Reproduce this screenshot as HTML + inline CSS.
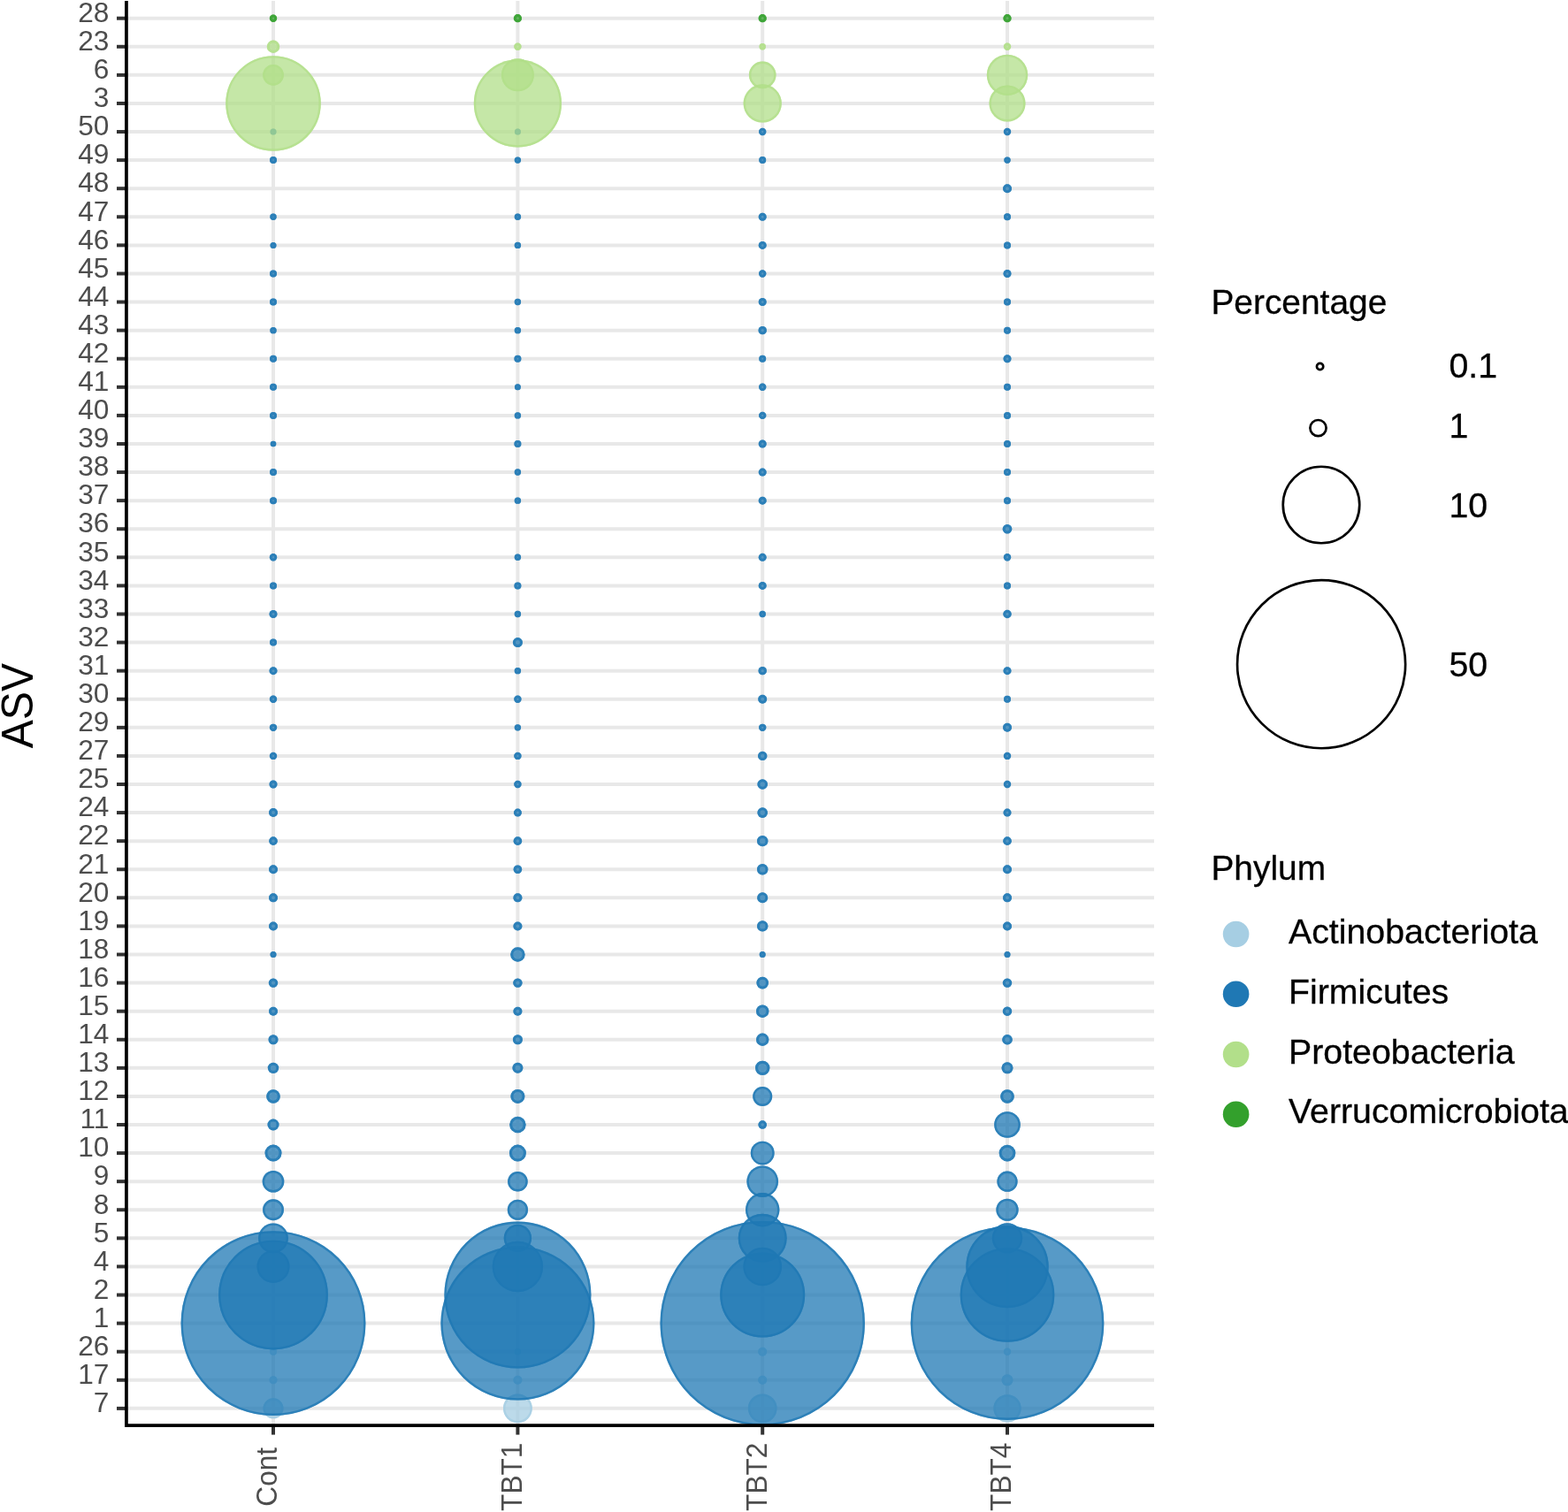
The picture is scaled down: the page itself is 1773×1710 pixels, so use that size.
<!DOCTYPE html>
<html lang="en">
<head>
<meta charset="utf-8">
<title>ASV bubble plot</title>
<style>
html,body{margin:0;padding:0;background:#fff;}
body{width:1773px;height:1710px;overflow:hidden;}
svg{display:block;}
text{font-family:"Liberation Sans",Arial,Helvetica,sans-serif;}
.ax{font-size:31.6px;fill:#4d4d4d;}
.lg{font-size:38.9px;fill:#000;stroke:#000;stroke-width:0.3px;}
.ll{font-size:39.3px;fill:#000;stroke:#000;stroke-width:0.3px;}
.tt{font-size:48.1px;fill:#000;}
</style>
</head>
<body>
<svg width="1773" height="1710" viewBox="0 0 1773 1710">
<rect width="1773" height="1710" fill="#ffffff"/>
<g stroke="#e8e8e8" stroke-width="4" fill="none">
<line x1="143.0" y1="20.70" x2="1305.0" y2="20.70"/>
<line x1="143.0" y1="52.78" x2="1305.0" y2="52.78"/>
<line x1="143.0" y1="84.87" x2="1305.0" y2="84.87"/>
<line x1="143.0" y1="116.95" x2="1305.0" y2="116.95"/>
<line x1="143.0" y1="149.04" x2="1305.0" y2="149.04"/>
<line x1="143.0" y1="181.12" x2="1305.0" y2="181.12"/>
<line x1="143.0" y1="213.21" x2="1305.0" y2="213.21"/>
<line x1="143.0" y1="245.29" x2="1305.0" y2="245.29"/>
<line x1="143.0" y1="277.38" x2="1305.0" y2="277.38"/>
<line x1="143.0" y1="309.46" x2="1305.0" y2="309.46"/>
<line x1="143.0" y1="341.55" x2="1305.0" y2="341.55"/>
<line x1="143.0" y1="373.63" x2="1305.0" y2="373.63"/>
<line x1="143.0" y1="405.72" x2="1305.0" y2="405.72"/>
<line x1="143.0" y1="437.81" x2="1305.0" y2="437.81"/>
<line x1="143.0" y1="469.89" x2="1305.0" y2="469.89"/>
<line x1="143.0" y1="501.98" x2="1305.0" y2="501.98"/>
<line x1="143.0" y1="534.06" x2="1305.0" y2="534.06"/>
<line x1="143.0" y1="566.15" x2="1305.0" y2="566.15"/>
<line x1="143.0" y1="598.23" x2="1305.0" y2="598.23"/>
<line x1="143.0" y1="630.32" x2="1305.0" y2="630.32"/>
<line x1="143.0" y1="662.40" x2="1305.0" y2="662.40"/>
<line x1="143.0" y1="694.49" x2="1305.0" y2="694.49"/>
<line x1="143.0" y1="726.57" x2="1305.0" y2="726.57"/>
<line x1="143.0" y1="758.66" x2="1305.0" y2="758.66"/>
<line x1="143.0" y1="790.74" x2="1305.0" y2="790.74"/>
<line x1="143.0" y1="822.83" x2="1305.0" y2="822.83"/>
<line x1="143.0" y1="854.91" x2="1305.0" y2="854.91"/>
<line x1="143.0" y1="887.00" x2="1305.0" y2="887.00"/>
<line x1="143.0" y1="919.08" x2="1305.0" y2="919.08"/>
<line x1="143.0" y1="951.17" x2="1305.0" y2="951.17"/>
<line x1="143.0" y1="983.25" x2="1305.0" y2="983.25"/>
<line x1="143.0" y1="1015.34" x2="1305.0" y2="1015.34"/>
<line x1="143.0" y1="1047.42" x2="1305.0" y2="1047.42"/>
<line x1="143.0" y1="1079.51" x2="1305.0" y2="1079.51"/>
<line x1="143.0" y1="1111.59" x2="1305.0" y2="1111.59"/>
<line x1="143.0" y1="1143.68" x2="1305.0" y2="1143.68"/>
<line x1="143.0" y1="1175.76" x2="1305.0" y2="1175.76"/>
<line x1="143.0" y1="1207.85" x2="1305.0" y2="1207.85"/>
<line x1="143.0" y1="1239.93" x2="1305.0" y2="1239.93"/>
<line x1="143.0" y1="1272.02" x2="1305.0" y2="1272.02"/>
<line x1="143.0" y1="1304.10" x2="1305.0" y2="1304.10"/>
<line x1="143.0" y1="1336.19" x2="1305.0" y2="1336.19"/>
<line x1="143.0" y1="1368.27" x2="1305.0" y2="1368.27"/>
<line x1="143.0" y1="1400.36" x2="1305.0" y2="1400.36"/>
<line x1="143.0" y1="1432.44" x2="1305.0" y2="1432.44"/>
<line x1="143.0" y1="1464.53" x2="1305.0" y2="1464.53"/>
<line x1="143.0" y1="1496.61" x2="1305.0" y2="1496.61"/>
<line x1="143.0" y1="1528.70" x2="1305.0" y2="1528.70"/>
<line x1="143.0" y1="1560.78" x2="1305.0" y2="1560.78"/>
<line x1="143.0" y1="1592.87" x2="1305.0" y2="1592.87"/>
<line x1="309.0" y1="1.0" x2="309.0" y2="1612.0"/>
<line x1="585.4" y1="1.0" x2="585.4" y2="1612.0"/>
<line x1="862.2" y1="1.0" x2="862.2" y2="1612.0"/>
<line x1="1139.0" y1="1.0" x2="1139.0" y2="1612.0"/>
</g>
<g fill-opacity="0.75" stroke-opacity="0.75">
<circle cx="309.0" cy="1528.70" r="4.00" fill="#A6CEE3"/><circle cx="309.0" cy="1528.70" r="2.50" fill="none" stroke="#A6CEE3" stroke-width="3.00"/>
<circle cx="585.4" cy="1528.70" r="3.70" fill="#A6CEE3"/><circle cx="585.4" cy="1528.70" r="2.20" fill="none" stroke="#A6CEE3" stroke-width="3.00"/>
<circle cx="862.2" cy="1528.70" r="5.00" fill="#A6CEE3"/><circle cx="862.2" cy="1528.70" r="3.50" fill="none" stroke="#A6CEE3" stroke-width="3.00"/>
<circle cx="1139.0" cy="1528.70" r="4.20" fill="#A6CEE3"/><circle cx="1139.0" cy="1528.70" r="2.70" fill="none" stroke="#A6CEE3" stroke-width="3.00"/>
<circle cx="309.0" cy="1560.78" r="4.50" fill="#A6CEE3"/><circle cx="309.0" cy="1560.78" r="3.00" fill="none" stroke="#A6CEE3" stroke-width="3.00"/>
<circle cx="585.4" cy="1560.78" r="5.00" fill="#A6CEE3"/><circle cx="585.4" cy="1560.78" r="3.50" fill="none" stroke="#A6CEE3" stroke-width="3.00"/>
<circle cx="862.2" cy="1560.78" r="5.00" fill="#A6CEE3"/><circle cx="862.2" cy="1560.78" r="3.50" fill="none" stroke="#A6CEE3" stroke-width="3.00"/>
<circle cx="1139.0" cy="1560.78" r="6.50" fill="#A6CEE3"/><circle cx="1139.0" cy="1560.78" r="5.00" fill="none" stroke="#A6CEE3" stroke-width="3.00"/>
<circle cx="309.0" cy="1592.87" r="11.50" fill="#A6CEE3"/><circle cx="309.0" cy="1592.87" r="10.30" fill="none" stroke="#A6CEE3" stroke-width="2.40"/>
<circle cx="585.4" cy="1592.87" r="16.40" fill="#A6CEE3"/><circle cx="585.4" cy="1592.87" r="15.20" fill="none" stroke="#A6CEE3" stroke-width="2.40"/>
<circle cx="862.2" cy="1592.87" r="16.30" fill="#A6CEE3"/><circle cx="862.2" cy="1592.87" r="15.10" fill="none" stroke="#A6CEE3" stroke-width="2.40"/>
<circle cx="1139.0" cy="1592.87" r="15.60" fill="#A6CEE3"/><circle cx="1139.0" cy="1592.87" r="14.40" fill="none" stroke="#A6CEE3" stroke-width="2.40"/>
<circle cx="309.0" cy="149.04" r="3.50" fill="#1F78B4"/><circle cx="309.0" cy="149.04" r="2.00" fill="none" stroke="#1F78B4" stroke-width="3.00"/>
<circle cx="585.4" cy="149.04" r="3.50" fill="#1F78B4"/><circle cx="585.4" cy="149.04" r="2.00" fill="none" stroke="#1F78B4" stroke-width="3.00"/>
<circle cx="862.2" cy="149.04" r="4.20" fill="#1F78B4"/><circle cx="862.2" cy="149.04" r="2.70" fill="none" stroke="#1F78B4" stroke-width="3.00"/>
<circle cx="1139.0" cy="149.04" r="4.20" fill="#1F78B4"/><circle cx="1139.0" cy="149.04" r="2.70" fill="none" stroke="#1F78B4" stroke-width="3.00"/>
<circle cx="309.0" cy="181.12" r="4.00" fill="#1F78B4"/><circle cx="309.0" cy="181.12" r="2.50" fill="none" stroke="#1F78B4" stroke-width="3.00"/>
<circle cx="585.4" cy="181.12" r="3.70" fill="#1F78B4"/><circle cx="585.4" cy="181.12" r="2.20" fill="none" stroke="#1F78B4" stroke-width="3.00"/>
<circle cx="862.2" cy="181.12" r="4.00" fill="#1F78B4"/><circle cx="862.2" cy="181.12" r="2.50" fill="none" stroke="#1F78B4" stroke-width="3.00"/>
<circle cx="1139.0" cy="181.12" r="3.70" fill="#1F78B4"/><circle cx="1139.0" cy="181.12" r="2.20" fill="none" stroke="#1F78B4" stroke-width="3.00"/>
<circle cx="1139.0" cy="213.21" r="5.00" fill="#1F78B4"/><circle cx="1139.0" cy="213.21" r="3.50" fill="none" stroke="#1F78B4" stroke-width="3.00"/>
<circle cx="309.0" cy="245.29" r="3.70" fill="#1F78B4"/><circle cx="309.0" cy="245.29" r="2.20" fill="none" stroke="#1F78B4" stroke-width="3.00"/>
<circle cx="585.4" cy="245.29" r="3.70" fill="#1F78B4"/><circle cx="585.4" cy="245.29" r="2.20" fill="none" stroke="#1F78B4" stroke-width="3.00"/>
<circle cx="862.2" cy="245.29" r="4.50" fill="#1F78B4"/><circle cx="862.2" cy="245.29" r="3.00" fill="none" stroke="#1F78B4" stroke-width="3.00"/>
<circle cx="1139.0" cy="245.29" r="4.00" fill="#1F78B4"/><circle cx="1139.0" cy="245.29" r="2.50" fill="none" stroke="#1F78B4" stroke-width="3.00"/>
<circle cx="309.0" cy="277.38" r="3.50" fill="#1F78B4"/><circle cx="309.0" cy="277.38" r="2.00" fill="none" stroke="#1F78B4" stroke-width="3.00"/>
<circle cx="585.4" cy="277.38" r="3.70" fill="#1F78B4"/><circle cx="585.4" cy="277.38" r="2.20" fill="none" stroke="#1F78B4" stroke-width="3.00"/>
<circle cx="862.2" cy="277.38" r="4.50" fill="#1F78B4"/><circle cx="862.2" cy="277.38" r="3.00" fill="none" stroke="#1F78B4" stroke-width="3.00"/>
<circle cx="1139.0" cy="277.38" r="4.00" fill="#1F78B4"/><circle cx="1139.0" cy="277.38" r="2.50" fill="none" stroke="#1F78B4" stroke-width="3.00"/>
<circle cx="309.0" cy="309.46" r="4.00" fill="#1F78B4"/><circle cx="309.0" cy="309.46" r="2.50" fill="none" stroke="#1F78B4" stroke-width="3.00"/>
<circle cx="862.2" cy="309.46" r="4.20" fill="#1F78B4"/><circle cx="862.2" cy="309.46" r="2.70" fill="none" stroke="#1F78B4" stroke-width="3.00"/>
<circle cx="1139.0" cy="309.46" r="4.50" fill="#1F78B4"/><circle cx="1139.0" cy="309.46" r="3.00" fill="none" stroke="#1F78B4" stroke-width="3.00"/>
<circle cx="309.0" cy="341.55" r="4.00" fill="#1F78B4"/><circle cx="309.0" cy="341.55" r="2.50" fill="none" stroke="#1F78B4" stroke-width="3.00"/>
<circle cx="585.4" cy="341.55" r="3.70" fill="#1F78B4"/><circle cx="585.4" cy="341.55" r="2.20" fill="none" stroke="#1F78B4" stroke-width="3.00"/>
<circle cx="862.2" cy="341.55" r="4.50" fill="#1F78B4"/><circle cx="862.2" cy="341.55" r="3.00" fill="none" stroke="#1F78B4" stroke-width="3.00"/>
<circle cx="1139.0" cy="341.55" r="4.00" fill="#1F78B4"/><circle cx="1139.0" cy="341.55" r="2.50" fill="none" stroke="#1F78B4" stroke-width="3.00"/>
<circle cx="309.0" cy="373.63" r="3.70" fill="#1F78B4"/><circle cx="309.0" cy="373.63" r="2.20" fill="none" stroke="#1F78B4" stroke-width="3.00"/>
<circle cx="585.4" cy="373.63" r="3.70" fill="#1F78B4"/><circle cx="585.4" cy="373.63" r="2.20" fill="none" stroke="#1F78B4" stroke-width="3.00"/>
<circle cx="862.2" cy="373.63" r="4.70" fill="#1F78B4"/><circle cx="862.2" cy="373.63" r="3.20" fill="none" stroke="#1F78B4" stroke-width="3.00"/>
<circle cx="1139.0" cy="373.63" r="4.00" fill="#1F78B4"/><circle cx="1139.0" cy="373.63" r="2.50" fill="none" stroke="#1F78B4" stroke-width="3.00"/>
<circle cx="309.0" cy="405.72" r="4.00" fill="#1F78B4"/><circle cx="309.0" cy="405.72" r="2.50" fill="none" stroke="#1F78B4" stroke-width="3.00"/>
<circle cx="585.4" cy="405.72" r="4.00" fill="#1F78B4"/><circle cx="585.4" cy="405.72" r="2.50" fill="none" stroke="#1F78B4" stroke-width="3.00"/>
<circle cx="862.2" cy="405.72" r="4.00" fill="#1F78B4"/><circle cx="862.2" cy="405.72" r="2.50" fill="none" stroke="#1F78B4" stroke-width="3.00"/>
<circle cx="1139.0" cy="405.72" r="4.50" fill="#1F78B4"/><circle cx="1139.0" cy="405.72" r="3.00" fill="none" stroke="#1F78B4" stroke-width="3.00"/>
<circle cx="309.0" cy="437.81" r="4.00" fill="#1F78B4"/><circle cx="309.0" cy="437.81" r="2.50" fill="none" stroke="#1F78B4" stroke-width="3.00"/>
<circle cx="585.4" cy="437.81" r="3.50" fill="#1F78B4"/><circle cx="585.4" cy="437.81" r="2.00" fill="none" stroke="#1F78B4" stroke-width="3.00"/>
<circle cx="862.2" cy="437.81" r="4.20" fill="#1F78B4"/><circle cx="862.2" cy="437.81" r="2.70" fill="none" stroke="#1F78B4" stroke-width="3.00"/>
<circle cx="1139.0" cy="437.81" r="4.00" fill="#1F78B4"/><circle cx="1139.0" cy="437.81" r="2.50" fill="none" stroke="#1F78B4" stroke-width="3.00"/>
<circle cx="309.0" cy="469.89" r="4.00" fill="#1F78B4"/><circle cx="309.0" cy="469.89" r="2.50" fill="none" stroke="#1F78B4" stroke-width="3.00"/>
<circle cx="585.4" cy="469.89" r="3.70" fill="#1F78B4"/><circle cx="585.4" cy="469.89" r="2.20" fill="none" stroke="#1F78B4" stroke-width="3.00"/>
<circle cx="862.2" cy="469.89" r="4.20" fill="#1F78B4"/><circle cx="862.2" cy="469.89" r="2.70" fill="none" stroke="#1F78B4" stroke-width="3.00"/>
<circle cx="1139.0" cy="469.89" r="4.00" fill="#1F78B4"/><circle cx="1139.0" cy="469.89" r="2.50" fill="none" stroke="#1F78B4" stroke-width="3.00"/>
<circle cx="309.0" cy="501.98" r="3.30" fill="#1F78B4"/><circle cx="309.0" cy="501.98" r="1.80" fill="none" stroke="#1F78B4" stroke-width="3.00"/>
<circle cx="585.4" cy="501.98" r="4.00" fill="#1F78B4"/><circle cx="585.4" cy="501.98" r="2.50" fill="none" stroke="#1F78B4" stroke-width="3.00"/>
<circle cx="862.2" cy="501.98" r="4.50" fill="#1F78B4"/><circle cx="862.2" cy="501.98" r="3.00" fill="none" stroke="#1F78B4" stroke-width="3.00"/>
<circle cx="1139.0" cy="501.98" r="4.00" fill="#1F78B4"/><circle cx="1139.0" cy="501.98" r="2.50" fill="none" stroke="#1F78B4" stroke-width="3.00"/>
<circle cx="309.0" cy="534.06" r="4.00" fill="#1F78B4"/><circle cx="309.0" cy="534.06" r="2.50" fill="none" stroke="#1F78B4" stroke-width="3.00"/>
<circle cx="585.4" cy="534.06" r="3.70" fill="#1F78B4"/><circle cx="585.4" cy="534.06" r="2.20" fill="none" stroke="#1F78B4" stroke-width="3.00"/>
<circle cx="862.2" cy="534.06" r="4.50" fill="#1F78B4"/><circle cx="862.2" cy="534.06" r="3.00" fill="none" stroke="#1F78B4" stroke-width="3.00"/>
<circle cx="1139.0" cy="534.06" r="4.00" fill="#1F78B4"/><circle cx="1139.0" cy="534.06" r="2.50" fill="none" stroke="#1F78B4" stroke-width="3.00"/>
<circle cx="309.0" cy="566.15" r="4.00" fill="#1F78B4"/><circle cx="309.0" cy="566.15" r="2.50" fill="none" stroke="#1F78B4" stroke-width="3.00"/>
<circle cx="585.4" cy="566.15" r="3.70" fill="#1F78B4"/><circle cx="585.4" cy="566.15" r="2.20" fill="none" stroke="#1F78B4" stroke-width="3.00"/>
<circle cx="862.2" cy="566.15" r="4.50" fill="#1F78B4"/><circle cx="862.2" cy="566.15" r="3.00" fill="none" stroke="#1F78B4" stroke-width="3.00"/>
<circle cx="1139.0" cy="566.15" r="4.00" fill="#1F78B4"/><circle cx="1139.0" cy="566.15" r="2.50" fill="none" stroke="#1F78B4" stroke-width="3.00"/>
<circle cx="1139.0" cy="598.23" r="5.30" fill="#1F78B4"/><circle cx="1139.0" cy="598.23" r="3.80" fill="none" stroke="#1F78B4" stroke-width="3.00"/>
<circle cx="309.0" cy="630.32" r="4.20" fill="#1F78B4"/><circle cx="309.0" cy="630.32" r="2.70" fill="none" stroke="#1F78B4" stroke-width="3.00"/>
<circle cx="585.4" cy="630.32" r="3.70" fill="#1F78B4"/><circle cx="585.4" cy="630.32" r="2.20" fill="none" stroke="#1F78B4" stroke-width="3.00"/>
<circle cx="862.2" cy="630.32" r="4.50" fill="#1F78B4"/><circle cx="862.2" cy="630.32" r="3.00" fill="none" stroke="#1F78B4" stroke-width="3.00"/>
<circle cx="1139.0" cy="630.32" r="4.20" fill="#1F78B4"/><circle cx="1139.0" cy="630.32" r="2.70" fill="none" stroke="#1F78B4" stroke-width="3.00"/>
<circle cx="309.0" cy="662.40" r="4.00" fill="#1F78B4"/><circle cx="309.0" cy="662.40" r="2.50" fill="none" stroke="#1F78B4" stroke-width="3.00"/>
<circle cx="585.4" cy="662.40" r="4.00" fill="#1F78B4"/><circle cx="585.4" cy="662.40" r="2.50" fill="none" stroke="#1F78B4" stroke-width="3.00"/>
<circle cx="862.2" cy="662.40" r="4.50" fill="#1F78B4"/><circle cx="862.2" cy="662.40" r="3.00" fill="none" stroke="#1F78B4" stroke-width="3.00"/>
<circle cx="1139.0" cy="662.40" r="4.00" fill="#1F78B4"/><circle cx="1139.0" cy="662.40" r="2.50" fill="none" stroke="#1F78B4" stroke-width="3.00"/>
<circle cx="309.0" cy="694.49" r="4.50" fill="#1F78B4"/><circle cx="309.0" cy="694.49" r="3.00" fill="none" stroke="#1F78B4" stroke-width="3.00"/>
<circle cx="585.4" cy="694.49" r="3.70" fill="#1F78B4"/><circle cx="585.4" cy="694.49" r="2.20" fill="none" stroke="#1F78B4" stroke-width="3.00"/>
<circle cx="862.2" cy="694.49" r="3.70" fill="#1F78B4"/><circle cx="862.2" cy="694.49" r="2.20" fill="none" stroke="#1F78B4" stroke-width="3.00"/>
<circle cx="1139.0" cy="694.49" r="4.70" fill="#1F78B4"/><circle cx="1139.0" cy="694.49" r="3.20" fill="none" stroke="#1F78B4" stroke-width="3.00"/>
<circle cx="309.0" cy="726.57" r="4.00" fill="#1F78B4"/><circle cx="309.0" cy="726.57" r="2.50" fill="none" stroke="#1F78B4" stroke-width="3.00"/>
<circle cx="585.4" cy="726.57" r="5.50" fill="#1F78B4"/><circle cx="585.4" cy="726.57" r="4.00" fill="none" stroke="#1F78B4" stroke-width="3.00"/>
<circle cx="309.0" cy="758.66" r="4.50" fill="#1F78B4"/><circle cx="309.0" cy="758.66" r="3.00" fill="none" stroke="#1F78B4" stroke-width="3.00"/>
<circle cx="585.4" cy="758.66" r="3.70" fill="#1F78B4"/><circle cx="585.4" cy="758.66" r="2.20" fill="none" stroke="#1F78B4" stroke-width="3.00"/>
<circle cx="862.2" cy="758.66" r="4.70" fill="#1F78B4"/><circle cx="862.2" cy="758.66" r="3.20" fill="none" stroke="#1F78B4" stroke-width="3.00"/>
<circle cx="1139.0" cy="758.66" r="4.50" fill="#1F78B4"/><circle cx="1139.0" cy="758.66" r="3.00" fill="none" stroke="#1F78B4" stroke-width="3.00"/>
<circle cx="309.0" cy="790.74" r="4.20" fill="#1F78B4"/><circle cx="309.0" cy="790.74" r="2.70" fill="none" stroke="#1F78B4" stroke-width="3.00"/>
<circle cx="585.4" cy="790.74" r="4.20" fill="#1F78B4"/><circle cx="585.4" cy="790.74" r="2.70" fill="none" stroke="#1F78B4" stroke-width="3.00"/>
<circle cx="862.2" cy="790.74" r="5.00" fill="#1F78B4"/><circle cx="862.2" cy="790.74" r="3.50" fill="none" stroke="#1F78B4" stroke-width="3.00"/>
<circle cx="1139.0" cy="790.74" r="4.00" fill="#1F78B4"/><circle cx="1139.0" cy="790.74" r="2.50" fill="none" stroke="#1F78B4" stroke-width="3.00"/>
<circle cx="309.0" cy="822.83" r="4.20" fill="#1F78B4"/><circle cx="309.0" cy="822.83" r="2.70" fill="none" stroke="#1F78B4" stroke-width="3.00"/>
<circle cx="585.4" cy="822.83" r="3.70" fill="#1F78B4"/><circle cx="585.4" cy="822.83" r="2.20" fill="none" stroke="#1F78B4" stroke-width="3.00"/>
<circle cx="862.2" cy="822.83" r="4.20" fill="#1F78B4"/><circle cx="862.2" cy="822.83" r="2.70" fill="none" stroke="#1F78B4" stroke-width="3.00"/>
<circle cx="1139.0" cy="822.83" r="5.00" fill="#1F78B4"/><circle cx="1139.0" cy="822.83" r="3.50" fill="none" stroke="#1F78B4" stroke-width="3.00"/>
<circle cx="309.0" cy="854.91" r="4.20" fill="#1F78B4"/><circle cx="309.0" cy="854.91" r="2.70" fill="none" stroke="#1F78B4" stroke-width="3.00"/>
<circle cx="585.4" cy="854.91" r="4.20" fill="#1F78B4"/><circle cx="585.4" cy="854.91" r="2.70" fill="none" stroke="#1F78B4" stroke-width="3.00"/>
<circle cx="862.2" cy="854.91" r="5.20" fill="#1F78B4"/><circle cx="862.2" cy="854.91" r="3.70" fill="none" stroke="#1F78B4" stroke-width="3.00"/>
<circle cx="1139.0" cy="854.91" r="4.20" fill="#1F78B4"/><circle cx="1139.0" cy="854.91" r="2.70" fill="none" stroke="#1F78B4" stroke-width="3.00"/>
<circle cx="309.0" cy="887.00" r="4.50" fill="#1F78B4"/><circle cx="309.0" cy="887.00" r="3.00" fill="none" stroke="#1F78B4" stroke-width="3.00"/>
<circle cx="585.4" cy="887.00" r="4.20" fill="#1F78B4"/><circle cx="585.4" cy="887.00" r="2.70" fill="none" stroke="#1F78B4" stroke-width="3.00"/>
<circle cx="862.2" cy="887.00" r="5.80" fill="#1F78B4"/><circle cx="862.2" cy="887.00" r="4.30" fill="none" stroke="#1F78B4" stroke-width="3.00"/>
<circle cx="1139.0" cy="887.00" r="4.20" fill="#1F78B4"/><circle cx="1139.0" cy="887.00" r="2.70" fill="none" stroke="#1F78B4" stroke-width="3.00"/>
<circle cx="309.0" cy="919.08" r="5.00" fill="#1F78B4"/><circle cx="309.0" cy="919.08" r="3.50" fill="none" stroke="#1F78B4" stroke-width="3.00"/>
<circle cx="585.4" cy="919.08" r="4.50" fill="#1F78B4"/><circle cx="585.4" cy="919.08" r="3.00" fill="none" stroke="#1F78B4" stroke-width="3.00"/>
<circle cx="862.2" cy="919.08" r="5.80" fill="#1F78B4"/><circle cx="862.2" cy="919.08" r="4.30" fill="none" stroke="#1F78B4" stroke-width="3.00"/>
<circle cx="1139.0" cy="919.08" r="4.50" fill="#1F78B4"/><circle cx="1139.0" cy="919.08" r="3.00" fill="none" stroke="#1F78B4" stroke-width="3.00"/>
<circle cx="309.0" cy="951.17" r="4.80" fill="#1F78B4"/><circle cx="309.0" cy="951.17" r="3.30" fill="none" stroke="#1F78B4" stroke-width="3.00"/>
<circle cx="585.4" cy="951.17" r="4.80" fill="#1F78B4"/><circle cx="585.4" cy="951.17" r="3.30" fill="none" stroke="#1F78B4" stroke-width="3.00"/>
<circle cx="862.2" cy="951.17" r="6.20" fill="#1F78B4"/><circle cx="862.2" cy="951.17" r="4.70" fill="none" stroke="#1F78B4" stroke-width="3.00"/>
<circle cx="1139.0" cy="951.17" r="4.80" fill="#1F78B4"/><circle cx="1139.0" cy="951.17" r="3.30" fill="none" stroke="#1F78B4" stroke-width="3.00"/>
<circle cx="309.0" cy="983.25" r="5.00" fill="#1F78B4"/><circle cx="309.0" cy="983.25" r="3.50" fill="none" stroke="#1F78B4" stroke-width="3.00"/>
<circle cx="585.4" cy="983.25" r="4.80" fill="#1F78B4"/><circle cx="585.4" cy="983.25" r="3.30" fill="none" stroke="#1F78B4" stroke-width="3.00"/>
<circle cx="862.2" cy="983.25" r="6.20" fill="#1F78B4"/><circle cx="862.2" cy="983.25" r="4.70" fill="none" stroke="#1F78B4" stroke-width="3.00"/>
<circle cx="1139.0" cy="983.25" r="5.00" fill="#1F78B4"/><circle cx="1139.0" cy="983.25" r="3.50" fill="none" stroke="#1F78B4" stroke-width="3.00"/>
<circle cx="309.0" cy="1015.34" r="5.00" fill="#1F78B4"/><circle cx="309.0" cy="1015.34" r="3.50" fill="none" stroke="#1F78B4" stroke-width="3.00"/>
<circle cx="585.4" cy="1015.34" r="5.00" fill="#1F78B4"/><circle cx="585.4" cy="1015.34" r="3.50" fill="none" stroke="#1F78B4" stroke-width="3.00"/>
<circle cx="862.2" cy="1015.34" r="6.00" fill="#1F78B4"/><circle cx="862.2" cy="1015.34" r="4.50" fill="none" stroke="#1F78B4" stroke-width="3.00"/>
<circle cx="1139.0" cy="1015.34" r="5.00" fill="#1F78B4"/><circle cx="1139.0" cy="1015.34" r="3.50" fill="none" stroke="#1F78B4" stroke-width="3.00"/>
<circle cx="309.0" cy="1047.42" r="5.00" fill="#1F78B4"/><circle cx="309.0" cy="1047.42" r="3.50" fill="none" stroke="#1F78B4" stroke-width="3.00"/>
<circle cx="585.4" cy="1047.42" r="5.00" fill="#1F78B4"/><circle cx="585.4" cy="1047.42" r="3.50" fill="none" stroke="#1F78B4" stroke-width="3.00"/>
<circle cx="862.2" cy="1047.42" r="6.20" fill="#1F78B4"/><circle cx="862.2" cy="1047.42" r="4.70" fill="none" stroke="#1F78B4" stroke-width="3.00"/>
<circle cx="1139.0" cy="1047.42" r="5.00" fill="#1F78B4"/><circle cx="1139.0" cy="1047.42" r="3.50" fill="none" stroke="#1F78B4" stroke-width="3.00"/>
<circle cx="309.0" cy="1079.51" r="3.50" fill="#1F78B4"/><circle cx="309.0" cy="1079.51" r="2.00" fill="none" stroke="#1F78B4" stroke-width="3.00"/>
<circle cx="585.4" cy="1079.51" r="8.20" fill="#1F78B4"/><circle cx="585.4" cy="1079.51" r="6.70" fill="none" stroke="#1F78B4" stroke-width="3.00"/>
<circle cx="862.2" cy="1079.51" r="3.50" fill="#1F78B4"/><circle cx="862.2" cy="1079.51" r="2.00" fill="none" stroke="#1F78B4" stroke-width="3.00"/>
<circle cx="1139.0" cy="1079.51" r="3.50" fill="#1F78B4"/><circle cx="1139.0" cy="1079.51" r="2.00" fill="none" stroke="#1F78B4" stroke-width="3.00"/>
<circle cx="309.0" cy="1111.59" r="5.20" fill="#1F78B4"/><circle cx="309.0" cy="1111.59" r="3.70" fill="none" stroke="#1F78B4" stroke-width="3.00"/>
<circle cx="585.4" cy="1111.59" r="5.20" fill="#1F78B4"/><circle cx="585.4" cy="1111.59" r="3.70" fill="none" stroke="#1F78B4" stroke-width="3.00"/>
<circle cx="862.2" cy="1111.59" r="6.80" fill="#1F78B4"/><circle cx="862.2" cy="1111.59" r="5.30" fill="none" stroke="#1F78B4" stroke-width="3.00"/>
<circle cx="1139.0" cy="1111.59" r="5.20" fill="#1F78B4"/><circle cx="1139.0" cy="1111.59" r="3.70" fill="none" stroke="#1F78B4" stroke-width="3.00"/>
<circle cx="309.0" cy="1143.68" r="5.00" fill="#1F78B4"/><circle cx="309.0" cy="1143.68" r="3.50" fill="none" stroke="#1F78B4" stroke-width="3.00"/>
<circle cx="585.4" cy="1143.68" r="5.00" fill="#1F78B4"/><circle cx="585.4" cy="1143.68" r="3.50" fill="none" stroke="#1F78B4" stroke-width="3.00"/>
<circle cx="862.2" cy="1143.68" r="7.20" fill="#1F78B4"/><circle cx="862.2" cy="1143.68" r="5.70" fill="none" stroke="#1F78B4" stroke-width="3.00"/>
<circle cx="1139.0" cy="1143.68" r="5.20" fill="#1F78B4"/><circle cx="1139.0" cy="1143.68" r="3.70" fill="none" stroke="#1F78B4" stroke-width="3.00"/>
<circle cx="309.0" cy="1175.76" r="5.50" fill="#1F78B4"/><circle cx="309.0" cy="1175.76" r="4.00" fill="none" stroke="#1F78B4" stroke-width="3.00"/>
<circle cx="585.4" cy="1175.76" r="5.50" fill="#1F78B4"/><circle cx="585.4" cy="1175.76" r="4.00" fill="none" stroke="#1F78B4" stroke-width="3.00"/>
<circle cx="862.2" cy="1175.76" r="7.20" fill="#1F78B4"/><circle cx="862.2" cy="1175.76" r="5.70" fill="none" stroke="#1F78B4" stroke-width="3.00"/>
<circle cx="1139.0" cy="1175.76" r="5.80" fill="#1F78B4"/><circle cx="1139.0" cy="1175.76" r="4.30" fill="none" stroke="#1F78B4" stroke-width="3.00"/>
<circle cx="309.0" cy="1207.85" r="6.20" fill="#1F78B4"/><circle cx="309.0" cy="1207.85" r="4.70" fill="none" stroke="#1F78B4" stroke-width="3.00"/>
<circle cx="585.4" cy="1207.85" r="6.00" fill="#1F78B4"/><circle cx="585.4" cy="1207.85" r="4.50" fill="none" stroke="#1F78B4" stroke-width="3.00"/>
<circle cx="862.2" cy="1207.85" r="8.20" fill="#1F78B4"/><circle cx="862.2" cy="1207.85" r="6.70" fill="none" stroke="#1F78B4" stroke-width="3.00"/>
<circle cx="1139.0" cy="1207.85" r="6.50" fill="#1F78B4"/><circle cx="1139.0" cy="1207.85" r="5.00" fill="none" stroke="#1F78B4" stroke-width="3.00"/>
<circle cx="309.0" cy="1239.93" r="7.80" fill="#1F78B4"/><circle cx="309.0" cy="1239.93" r="6.30" fill="none" stroke="#1F78B4" stroke-width="3.00"/>
<circle cx="585.4" cy="1239.93" r="8.00" fill="#1F78B4"/><circle cx="585.4" cy="1239.93" r="6.50" fill="none" stroke="#1F78B4" stroke-width="3.00"/>
<circle cx="862.2" cy="1239.93" r="11.00" fill="#1F78B4"/><circle cx="862.2" cy="1239.93" r="9.80" fill="none" stroke="#1F78B4" stroke-width="2.40"/>
<circle cx="1139.0" cy="1239.93" r="7.80" fill="#1F78B4"/><circle cx="1139.0" cy="1239.93" r="6.30" fill="none" stroke="#1F78B4" stroke-width="3.00"/>
<circle cx="309.0" cy="1272.02" r="6.50" fill="#1F78B4"/><circle cx="309.0" cy="1272.02" r="5.00" fill="none" stroke="#1F78B4" stroke-width="3.00"/>
<circle cx="585.4" cy="1272.02" r="9.20" fill="#1F78B4"/><circle cx="585.4" cy="1272.02" r="7.70" fill="none" stroke="#1F78B4" stroke-width="3.00"/>
<circle cx="862.2" cy="1272.02" r="4.80" fill="#1F78B4"/><circle cx="862.2" cy="1272.02" r="3.30" fill="none" stroke="#1F78B4" stroke-width="3.00"/>
<circle cx="1139.0" cy="1272.02" r="14.80" fill="#1F78B4"/><circle cx="1139.0" cy="1272.02" r="13.60" fill="none" stroke="#1F78B4" stroke-width="2.40"/>
<circle cx="309.0" cy="1304.10" r="9.50" fill="#1F78B4"/><circle cx="309.0" cy="1304.10" r="8.00" fill="none" stroke="#1F78B4" stroke-width="3.00"/>
<circle cx="585.4" cy="1304.10" r="9.50" fill="#1F78B4"/><circle cx="585.4" cy="1304.10" r="8.00" fill="none" stroke="#1F78B4" stroke-width="3.00"/>
<circle cx="862.2" cy="1304.10" r="13.40" fill="#1F78B4"/><circle cx="862.2" cy="1304.10" r="12.20" fill="none" stroke="#1F78B4" stroke-width="2.40"/>
<circle cx="1139.0" cy="1304.10" r="9.30" fill="#1F78B4"/><circle cx="1139.0" cy="1304.10" r="7.80" fill="none" stroke="#1F78B4" stroke-width="3.00"/>
<circle cx="309.0" cy="1336.19" r="12.30" fill="#1F78B4"/><circle cx="309.0" cy="1336.19" r="11.10" fill="none" stroke="#1F78B4" stroke-width="2.40"/>
<circle cx="585.4" cy="1336.19" r="11.30" fill="#1F78B4"/><circle cx="585.4" cy="1336.19" r="10.10" fill="none" stroke="#1F78B4" stroke-width="2.40"/>
<circle cx="862.2" cy="1336.19" r="17.80" fill="#1F78B4"/><circle cx="862.2" cy="1336.19" r="16.60" fill="none" stroke="#1F78B4" stroke-width="2.40"/>
<circle cx="1139.0" cy="1336.19" r="11.60" fill="#1F78B4"/><circle cx="1139.0" cy="1336.19" r="10.40" fill="none" stroke="#1F78B4" stroke-width="2.40"/>
<circle cx="309.0" cy="1368.27" r="11.90" fill="#1F78B4"/><circle cx="309.0" cy="1368.27" r="10.70" fill="none" stroke="#1F78B4" stroke-width="2.40"/>
<circle cx="585.4" cy="1368.27" r="11.60" fill="#1F78B4"/><circle cx="585.4" cy="1368.27" r="10.40" fill="none" stroke="#1F78B4" stroke-width="2.40"/>
<circle cx="862.2" cy="1368.27" r="19.20" fill="#1F78B4"/><circle cx="862.2" cy="1368.27" r="18.00" fill="none" stroke="#1F78B4" stroke-width="2.40"/>
<circle cx="1139.0" cy="1368.27" r="12.60" fill="#1F78B4"/><circle cx="1139.0" cy="1368.27" r="11.40" fill="none" stroke="#1F78B4" stroke-width="2.40"/>
<circle cx="309.0" cy="1400.36" r="16.90" fill="#1F78B4"/><circle cx="309.0" cy="1400.36" r="15.70" fill="none" stroke="#1F78B4" stroke-width="2.40"/>
<circle cx="585.4" cy="1400.36" r="15.70" fill="#1F78B4"/><circle cx="585.4" cy="1400.36" r="14.50" fill="none" stroke="#1F78B4" stroke-width="2.40"/>
<circle cx="862.2" cy="1400.36" r="27.50" fill="#1F78B4"/><circle cx="862.2" cy="1400.36" r="26.30" fill="none" stroke="#1F78B4" stroke-width="2.40"/>
<circle cx="1139.0" cy="1400.36" r="17.20" fill="#1F78B4"/><circle cx="1139.0" cy="1400.36" r="16.00" fill="none" stroke="#1F78B4" stroke-width="2.40"/>
<circle cx="309.0" cy="1432.44" r="18.50" fill="#1F78B4"/><circle cx="309.0" cy="1432.44" r="17.30" fill="none" stroke="#1F78B4" stroke-width="2.40"/>
<circle cx="585.4" cy="1432.44" r="28.70" fill="#1F78B4"/><circle cx="585.4" cy="1432.44" r="27.50" fill="none" stroke="#1F78B4" stroke-width="2.40"/>
<circle cx="862.2" cy="1432.44" r="21.80" fill="#1F78B4"/><circle cx="862.2" cy="1432.44" r="20.60" fill="none" stroke="#1F78B4" stroke-width="2.40"/>
<circle cx="1139.0" cy="1432.44" r="46.70" fill="#1F78B4"/><circle cx="1139.0" cy="1432.44" r="45.50" fill="none" stroke="#1F78B4" stroke-width="2.40"/>
<circle cx="309.0" cy="1464.53" r="61.90" fill="#1F78B4"/><circle cx="309.0" cy="1464.53" r="60.70" fill="none" stroke="#1F78B4" stroke-width="2.40"/>
<circle cx="585.4" cy="1464.53" r="83.00" fill="#1F78B4"/><circle cx="585.4" cy="1464.53" r="81.80" fill="none" stroke="#1F78B4" stroke-width="2.40"/>
<circle cx="862.2" cy="1464.53" r="48.00" fill="#1F78B4"/><circle cx="862.2" cy="1464.53" r="46.80" fill="none" stroke="#1F78B4" stroke-width="2.40"/>
<circle cx="1139.0" cy="1464.53" r="53.30" fill="#1F78B4"/><circle cx="1139.0" cy="1464.53" r="52.10" fill="none" stroke="#1F78B4" stroke-width="2.40"/>
<circle cx="309.0" cy="1496.61" r="104.40" fill="#1F78B4"/><circle cx="309.0" cy="1496.61" r="103.20" fill="none" stroke="#1F78B4" stroke-width="2.40"/>
<circle cx="585.4" cy="1496.61" r="87.00" fill="#1F78B4"/><circle cx="585.4" cy="1496.61" r="85.80" fill="none" stroke="#1F78B4" stroke-width="2.40"/>
<circle cx="862.2" cy="1496.61" r="115.70" fill="#1F78B4"/><circle cx="862.2" cy="1496.61" r="114.50" fill="none" stroke="#1F78B4" stroke-width="2.40"/>
<circle cx="1139.0" cy="1496.61" r="109.30" fill="#1F78B4"/><circle cx="1139.0" cy="1496.61" r="108.10" fill="none" stroke="#1F78B4" stroke-width="2.40"/>
<circle cx="309.0" cy="52.78" r="7.20" fill="#B2DF8A"/><circle cx="309.0" cy="52.78" r="5.70" fill="none" stroke="#B2DF8A" stroke-width="3.00"/>
<circle cx="585.4" cy="52.78" r="4.20" fill="#B2DF8A"/><circle cx="585.4" cy="52.78" r="2.70" fill="none" stroke="#B2DF8A" stroke-width="3.00"/>
<circle cx="862.2" cy="52.78" r="3.70" fill="#B2DF8A"/><circle cx="862.2" cy="52.78" r="2.20" fill="none" stroke="#B2DF8A" stroke-width="3.00"/>
<circle cx="1139.0" cy="52.78" r="4.20" fill="#B2DF8A"/><circle cx="1139.0" cy="52.78" r="2.70" fill="none" stroke="#B2DF8A" stroke-width="3.00"/>
<circle cx="309.0" cy="84.87" r="11.90" fill="#B2DF8A"/><circle cx="309.0" cy="84.87" r="10.70" fill="none" stroke="#B2DF8A" stroke-width="2.40"/>
<circle cx="585.4" cy="84.87" r="18.50" fill="#B2DF8A"/><circle cx="585.4" cy="84.87" r="17.30" fill="none" stroke="#B2DF8A" stroke-width="2.40"/>
<circle cx="862.2" cy="84.87" r="15.30" fill="#B2DF8A"/><circle cx="862.2" cy="84.87" r="14.10" fill="none" stroke="#B2DF8A" stroke-width="2.40"/>
<circle cx="1139.0" cy="84.87" r="23.20" fill="#B2DF8A"/><circle cx="1139.0" cy="84.87" r="22.00" fill="none" stroke="#B2DF8A" stroke-width="2.40"/>
<circle cx="309.0" cy="116.95" r="53.80" fill="#B2DF8A"/><circle cx="309.0" cy="116.95" r="52.60" fill="none" stroke="#B2DF8A" stroke-width="2.40"/>
<circle cx="585.4" cy="116.95" r="49.60" fill="#B2DF8A"/><circle cx="585.4" cy="116.95" r="48.40" fill="none" stroke="#B2DF8A" stroke-width="2.40"/>
<circle cx="862.2" cy="116.95" r="21.60" fill="#B2DF8A"/><circle cx="862.2" cy="116.95" r="20.40" fill="none" stroke="#B2DF8A" stroke-width="2.40"/>
<circle cx="1139.0" cy="116.95" r="20.50" fill="#B2DF8A"/><circle cx="1139.0" cy="116.95" r="19.30" fill="none" stroke="#B2DF8A" stroke-width="2.40"/>
<circle cx="309.0" cy="20.70" r="4.20" fill="#33A02C"/><circle cx="309.0" cy="20.70" r="2.70" fill="none" stroke="#33A02C" stroke-width="3.00"/>
<circle cx="585.4" cy="20.70" r="4.60" fill="#33A02C"/><circle cx="585.4" cy="20.70" r="3.10" fill="none" stroke="#33A02C" stroke-width="3.00"/>
<circle cx="862.2" cy="20.70" r="4.60" fill="#33A02C"/><circle cx="862.2" cy="20.70" r="3.10" fill="none" stroke="#33A02C" stroke-width="3.00"/>
<circle cx="1139.0" cy="20.70" r="4.60" fill="#33A02C"/><circle cx="1139.0" cy="20.70" r="3.10" fill="none" stroke="#33A02C" stroke-width="3.00"/>
</g>
<g stroke="#333333" stroke-width="4" fill="none">
<line x1="132" y1="20.70" x2="143" y2="20.70"/>
<line x1="132" y1="52.78" x2="143" y2="52.78"/>
<line x1="132" y1="84.87" x2="143" y2="84.87"/>
<line x1="132" y1="116.95" x2="143" y2="116.95"/>
<line x1="132" y1="149.04" x2="143" y2="149.04"/>
<line x1="132" y1="181.12" x2="143" y2="181.12"/>
<line x1="132" y1="213.21" x2="143" y2="213.21"/>
<line x1="132" y1="245.29" x2="143" y2="245.29"/>
<line x1="132" y1="277.38" x2="143" y2="277.38"/>
<line x1="132" y1="309.46" x2="143" y2="309.46"/>
<line x1="132" y1="341.55" x2="143" y2="341.55"/>
<line x1="132" y1="373.63" x2="143" y2="373.63"/>
<line x1="132" y1="405.72" x2="143" y2="405.72"/>
<line x1="132" y1="437.81" x2="143" y2="437.81"/>
<line x1="132" y1="469.89" x2="143" y2="469.89"/>
<line x1="132" y1="501.98" x2="143" y2="501.98"/>
<line x1="132" y1="534.06" x2="143" y2="534.06"/>
<line x1="132" y1="566.15" x2="143" y2="566.15"/>
<line x1="132" y1="598.23" x2="143" y2="598.23"/>
<line x1="132" y1="630.32" x2="143" y2="630.32"/>
<line x1="132" y1="662.40" x2="143" y2="662.40"/>
<line x1="132" y1="694.49" x2="143" y2="694.49"/>
<line x1="132" y1="726.57" x2="143" y2="726.57"/>
<line x1="132" y1="758.66" x2="143" y2="758.66"/>
<line x1="132" y1="790.74" x2="143" y2="790.74"/>
<line x1="132" y1="822.83" x2="143" y2="822.83"/>
<line x1="132" y1="854.91" x2="143" y2="854.91"/>
<line x1="132" y1="887.00" x2="143" y2="887.00"/>
<line x1="132" y1="919.08" x2="143" y2="919.08"/>
<line x1="132" y1="951.17" x2="143" y2="951.17"/>
<line x1="132" y1="983.25" x2="143" y2="983.25"/>
<line x1="132" y1="1015.34" x2="143" y2="1015.34"/>
<line x1="132" y1="1047.42" x2="143" y2="1047.42"/>
<line x1="132" y1="1079.51" x2="143" y2="1079.51"/>
<line x1="132" y1="1111.59" x2="143" y2="1111.59"/>
<line x1="132" y1="1143.68" x2="143" y2="1143.68"/>
<line x1="132" y1="1175.76" x2="143" y2="1175.76"/>
<line x1="132" y1="1207.85" x2="143" y2="1207.85"/>
<line x1="132" y1="1239.93" x2="143" y2="1239.93"/>
<line x1="132" y1="1272.02" x2="143" y2="1272.02"/>
<line x1="132" y1="1304.10" x2="143" y2="1304.10"/>
<line x1="132" y1="1336.19" x2="143" y2="1336.19"/>
<line x1="132" y1="1368.27" x2="143" y2="1368.27"/>
<line x1="132" y1="1400.36" x2="143" y2="1400.36"/>
<line x1="132" y1="1432.44" x2="143" y2="1432.44"/>
<line x1="132" y1="1464.53" x2="143" y2="1464.53"/>
<line x1="132" y1="1496.61" x2="143" y2="1496.61"/>
<line x1="132" y1="1528.70" x2="143" y2="1528.70"/>
<line x1="132" y1="1560.78" x2="143" y2="1560.78"/>
<line x1="132" y1="1592.87" x2="143" y2="1592.87"/>
<line x1="309.0" y1="1612" x2="309.0" y2="1622.6"/>
<line x1="585.4" y1="1612" x2="585.4" y2="1622.6"/>
<line x1="862.2" y1="1612" x2="862.2" y2="1622.6"/>
<line x1="1139.0" y1="1612" x2="1139.0" y2="1622.6"/>
</g>
<g stroke="#000" stroke-width="3.8" fill="none" stroke-linecap="butt">
<line x1="142.9" y1="1.0" x2="142.9" y2="1614"/>
<line x1="141" y1="1612.1" x2="1305.0" y2="1612.1"/>
</g>
<g class="ax" text-anchor="end">
<text x="123.3" y="24.95">28</text>
<text x="123.3" y="57.03">23</text>
<text x="123.3" y="89.12">6</text>
<text x="123.3" y="121.20">3</text>
<text x="123.3" y="153.29">50</text>
<text x="123.3" y="185.38">49</text>
<text x="123.3" y="217.46">48</text>
<text x="123.3" y="249.54">47</text>
<text x="123.3" y="281.63">46</text>
<text x="123.3" y="313.71">45</text>
<text x="123.3" y="345.80">44</text>
<text x="123.3" y="377.88">43</text>
<text x="123.3" y="409.97">42</text>
<text x="123.3" y="442.06">41</text>
<text x="123.3" y="474.14">40</text>
<text x="123.3" y="506.23">39</text>
<text x="123.3" y="538.31">38</text>
<text x="123.3" y="570.40">37</text>
<text x="123.3" y="602.48">36</text>
<text x="123.3" y="634.57">35</text>
<text x="123.3" y="666.65">34</text>
<text x="123.3" y="698.74">33</text>
<text x="123.3" y="730.82">32</text>
<text x="123.3" y="762.91">31</text>
<text x="123.3" y="794.99">30</text>
<text x="123.3" y="827.08">29</text>
<text x="123.3" y="859.16">27</text>
<text x="123.3" y="891.25">25</text>
<text x="123.3" y="923.33">24</text>
<text x="123.3" y="955.42">22</text>
<text x="123.3" y="987.50">21</text>
<text x="123.3" y="1019.59">20</text>
<text x="123.3" y="1051.67">19</text>
<text x="123.3" y="1083.76">18</text>
<text x="123.3" y="1115.84">16</text>
<text x="123.3" y="1147.93">15</text>
<text x="123.3" y="1180.01">14</text>
<text x="123.3" y="1212.10">13</text>
<text x="123.3" y="1244.18">12</text>
<text x="123.3" y="1276.27">11</text>
<text x="123.3" y="1308.35">10</text>
<text x="123.3" y="1340.44">9</text>
<text x="123.3" y="1372.52">8</text>
<text x="123.3" y="1404.61">5</text>
<text x="123.3" y="1436.69">4</text>
<text x="123.3" y="1468.78">2</text>
<text x="123.3" y="1500.86">1</text>
<text x="123.3" y="1532.95">26</text>
<text x="123.3" y="1565.03">17</text>
<text x="123.3" y="1597.12">7</text>
</g>
<g class="ax" text-anchor="middle">
<text transform="translate(313.40,1670.3) rotate(-90) scale(1,1.03)">Cont</text>
<text transform="translate(589.80,1670.3) rotate(-90) scale(1,1.03)">TBT1</text>
<text transform="translate(866.60,1670.3) rotate(-90) scale(1,1.03)">TBT2</text>
<text transform="translate(1143.40,1670.3) rotate(-90) scale(1,1.03)">TBT4</text>
</g>
<text class="tt" text-anchor="middle" transform="translate(36.8,798.1) rotate(-90) scale(1,1.03)">ASV</text>
<text class="lg" transform="translate(1369.4,355.3)">Percentage</text>
<g fill="none" stroke="#000" stroke-width="2.7">
<circle cx="1492.6" cy="414.5" r="3.65"/>
<circle cx="1490.5" cy="484.1" r="9.10"/>
<circle cx="1494.0" cy="571.0" r="43.25"/>
<circle cx="1494.1" cy="751.2" r="95.05"/>
</g>
<text class="ll" transform="translate(1638.5,427.30)">0.1</text>
<text class="ll" transform="translate(1638.5,494.90)">1</text>
<text class="ll" transform="translate(1638.5,584.60)">10</text>
<text class="ll" transform="translate(1638.5,765.10)">50</text>
<text class="lg" transform="translate(1369.4,995.3)">Phylum</text>
<circle cx="1397.6" cy="1056.5" r="14.8" fill="#A6CEE3"/>
<text class="ll" transform="translate(1457,1066.60)">Actinobacteriota</text>
<circle cx="1397.6" cy="1124.3" r="14.8" fill="#1F78B4"/>
<text class="ll" transform="translate(1457,1134.50)">Firmicutes</text>
<circle cx="1397.6" cy="1192.5" r="14.8" fill="#B2DF8A"/>
<text class="ll" transform="translate(1457,1202.60)">Proteobacteria</text>
<circle cx="1397.6" cy="1260.3" r="14.8" fill="#33A02C"/>
<text class="ll" transform="translate(1457,1270.20)">Verrucomicrobiota</text>
</svg>
</body>
</html>
